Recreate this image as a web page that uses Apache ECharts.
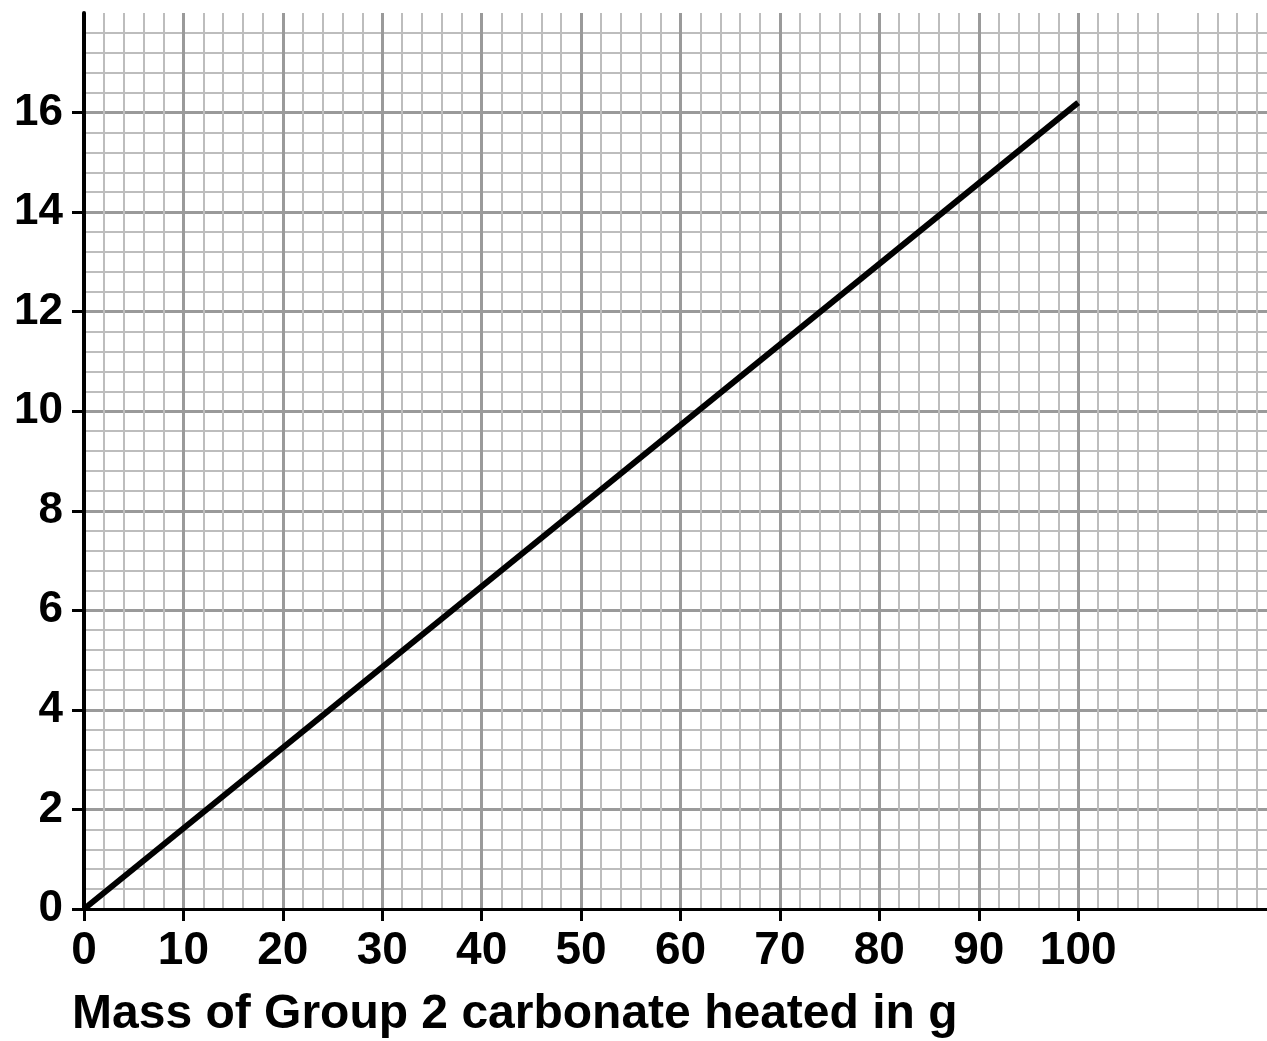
<!DOCTYPE html>
<html>
<head>
<meta charset="utf-8">
<script src="https://cdn.jsdelivr.net/npm/echarts@6/dist/echarts.min.js"></script>
<style>html,body{margin:0;padding:0;background:#fff;overflow:hidden;width:1267px;height:1041px;}#c{width:1277px;height:1041px;}</style>
</head>
<body>
<div id="c"></div>
<script>
const xTickLabels = [0, 10, 20, 30, 40, 50, 60, 70, 80, 90, 100];
const yTickLabels = [0, 2, 4, 6, 8, 10, 12, 14, 16];
const massHeated = [0, 100];
const yValues = [0, 16.2];
const xTitle = 'Mass of Group 2 carbonate heated in g';

const chart = echarts.init(document.getElementById('c'), null, {renderer: 'canvas'});
const font = '"Liberation Sans", Arial, sans-serif';
chart.setOption({
  animation: false,
  backgroundColor: '#fff',
  title: {
    text: xTitle, left: 67, top: 986,
    textStyle: {fontFamily: font, fontSize: 48, fontWeight: 'bold', color: '#000'}
  },
  grid: {left: 84, top: 13, bottom: 132, right: 0, containLabel: false},
  xAxis: {
    type: 'value', min: 0, max: 120, interval: 10,
    axisLine: {show: true, onZero: false, lineStyle: {color: '#000', width: 3}},
    axisTick: {show: true, length: 12, customValues: xTickLabels, lineStyle: {color: '#000', width: 3}},
    axisLabel: {customValues: xTickLabels, margin: 19, fontFamily: font, fontSize: 46, fontWeight: 'bold', color: '#000'},
    splitLine: {show: true, lineStyle: {color: '#9a9a9a', width: 3}},
    minorTick: {show: false, splitNumber: 5},
    minorSplitLine: {show: true, lineStyle: {color: '#bdbdbd', width: 2}}
  },
  yAxis: {
    type: 'value', min: 0, max: 18, interval: 2,
    axisLine: {show: true, onZero: false, lineStyle: {color: '#000', width: 4}},
    axisTick: {show: true, length: 12, customValues: yTickLabels, lineStyle: {color: '#000', width: 3}},
    axisLabel: {customValues: yTickLabels, margin: 21, fontFamily: font, fontSize: 44, fontWeight: 'bold', color: '#000'},
    splitLine: {show: true, lineStyle: {color: '#9a9a9a', width: 3}},
    minorTick: {show: false, splitNumber: 5},
    minorSplitLine: {show: true, lineStyle: {color: '#bdbdbd', width: 2}}
  },
  series: [{
    type: 'line',
    data: massHeated.map((x, i) => [x, yValues[i]]),
    showSymbol: false,
    lineStyle: {color: '#000', width: 6},
    z: 5
  }]
});
</script>
</body>
</html>
